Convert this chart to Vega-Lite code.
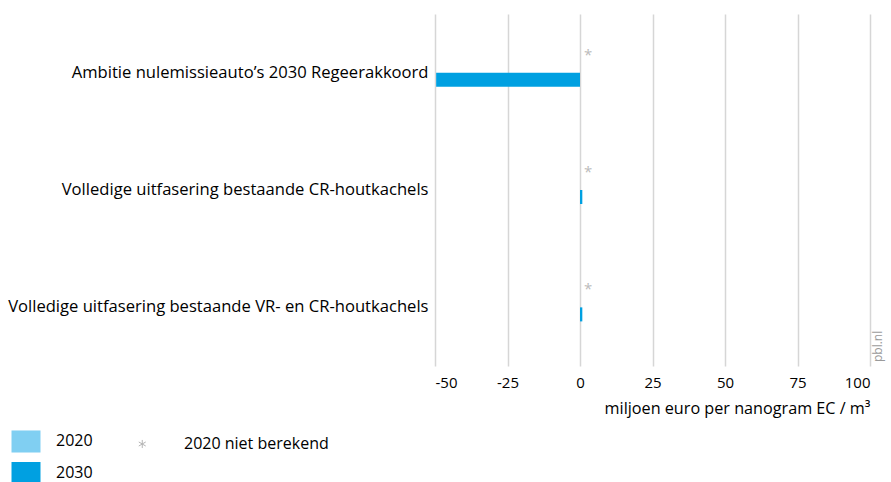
{
  "$schema": "https://vega.github.io/schema/vega-lite/v6.json",
  "width": 435,
  "height": 352,
  "autosize": "none",
  "padding": {"left": 435, "top": 14, "right": 21, "bottom": 116},
  "background": "white",
  "config": {"view": {"stroke": null}, "font": "Open Sans"},
  "datasets": {
    "bars": [
      {"categorie": "Ambitie nulemissieauto’s 2030 Regeerakkoord", "reeks": "2020", "waarde": null},
      {"categorie": "Ambitie nulemissieauto’s 2030 Regeerakkoord", "reeks": "2030", "waarde": -49.6},
      {"categorie": "Volledige uitfasering bestaande CR-houtkachels", "reeks": "2020", "waarde": null},
      {"categorie": "Volledige uitfasering bestaande CR-houtkachels", "reeks": "2030", "waarde": 0.8},
      {"categorie": "Volledige uitfasering bestaande VR- en CR-houtkachels", "reeks": "2020", "waarde": null},
      {"categorie": "Volledige uitfasering bestaande VR- en CR-houtkachels", "reeks": "2030", "waarde": 0.8}
    ],
    "nietberekend": [
      {"categorie": "Ambitie nulemissieauto’s 2030 Regeerakkoord", "reeks": "2020", "teken": "*"},
      {"categorie": "Volledige uitfasering bestaande CR-houtkachels", "reeks": "2020", "teken": "*"},
      {"categorie": "Volledige uitfasering bestaande VR- en CR-houtkachels", "reeks": "2020", "teken": "*"}
    ],
    "bron": [{"t": "pbl.nl"}]
  },
  "layer": [
    {
      "data": {"name": "bars"},
      "mark": {"type": "bar"},
      "encoding": {
        "y": {
          "field": "categorie", "type": "nominal", "sort": null,
          "scale": {"paddingInner": 0.761, "paddingOuter": 0.38},
          "axis": {"title": null, "domain": false, "ticks": false, "labelFontSize": 16.6, "labelColor": "#000000", "labelPadding": 7, "labelLimit": 600}
        },
        "yOffset": {"field": "reeks", "type": "nominal", "scale": {"domain": ["2020", "2030"], "paddingInner": 0, "paddingOuter": 0}},
        "x": {
          "field": "waarde", "type": "quantitative",
          "scale": {"domain": [-50, 100], "nice": false, "zero": false},
          "axis": {
            "values": [-50, -25, 0, 25, 50, 75, 100],
            "labelExpr": "replace(datum.label, '−', '-')",
            "title": "miljoen euro per nanogram EC / m³",
            "titleAnchor": "end", "titleAlign": "right",
            "domain": false, "ticks": false, "grid": true,
            "gridColor": "#d6d6d6", "gridWidth": 1.5,
            "labelFontSize": 15, "labelColor": "#000000", "labelPadding": 9,
            "titleFontSize": 16.2, "titleFontWeight": "normal", "titleColor": "#000000", "titlePadding": 10
          }
        },
        "color": {
          "field": "reeks", "type": "nominal",
          "scale": {"domain": ["2020", "2020 niet berekend", "2030"], "range": ["#80cff2", "#bbbbbb", "#00a0e1"]},
          "legend": {
            "title": null, "orient": "none", "legendX": -424, "legendY": 412,
            "direction": "horizontal",
            "columns": 2, "columnPadding": 43, "rowPadding": 3,
            "symbolSize": 841, "labelFontSize": 16, "labelColor": "#000000", "labelOffset": 15,
            "symbolType": "M-1,-0.76H1V0.76H-1Z",
            "encode": {
              "symbols": {
                "update": {
                  "shape": {"signal": "datum.value === '2020 niet berekend' ? 'M-0.81,-0.28V0.28M-1.05,-0.14L-0.57,0.14M-1.05,0.14L-0.57,-0.14' : 'M-1,-0.76H1V0.76H-1Z'"},
                  "stroke": {"signal": "datum.value === '2020 niet berekend' ? '#b5b5b5' : 'transparent'"},
                  "strokeWidth": {"value": 1},
                  "opacity": {"value": 1}
                }
              }
            }
          }
        }
      }
    },
    {
      "data": {"name": "nietberekend"},
      "mark": {"type": "text", "color": "#bbbbbb", "fontSize": 15, "dx": 8, "dy": -11, "align": "center", "baseline": "middle"},
      "encoding": {
        "y": {"field": "categorie", "type": "nominal", "sort": null},
        "yOffset": {"field": "reeks", "type": "nominal"},
        "x": {"datum": 0},
        "text": {"field": "teken"}
      }
    },
    {
      "data": {"values": []},
      "mark": {"type": "rule", "color": "#a6a6a6", "strokeWidth": 2},
      "encoding": {"x": {"datum": 0}}
    },
    {
      "data": {"name": "bron"},
      "mark": {"type": "text", "angle": 270, "align": "left", "baseline": "middle", "fontSize": 12, "color": "#9a9a9a", "dx": 4},
      "encoding": {
        "x": {"datum": 102.8},
        "y": {"value": 352},
        "text": {"field": "t"}
      }
    }
  ]
}
